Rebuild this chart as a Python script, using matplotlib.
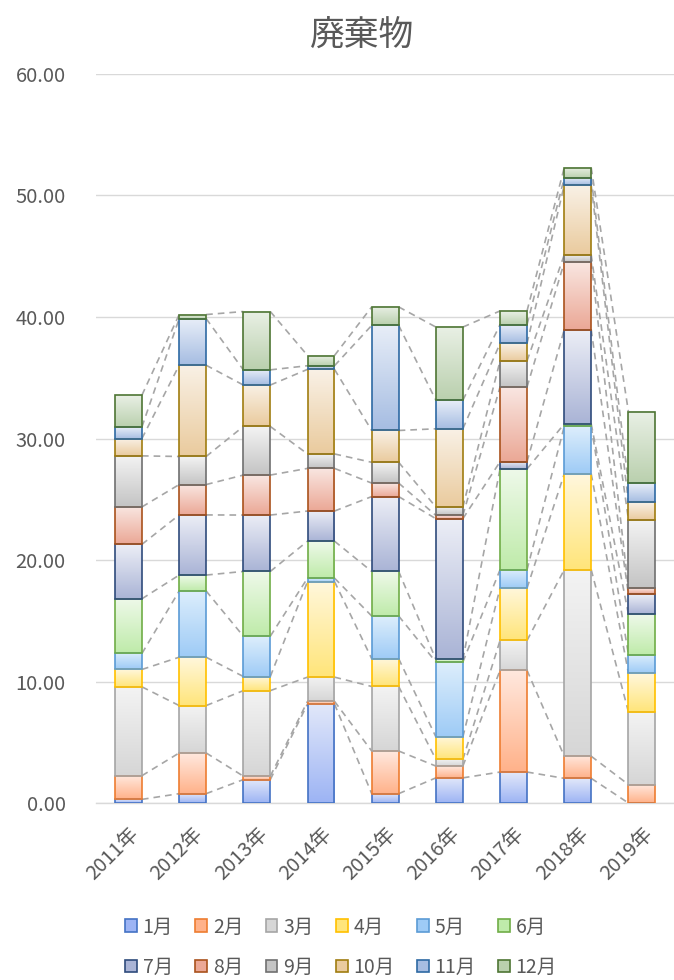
#!/usr/bin/env python3
"""Stacked monthly waste bars (2011-2019) in the Excel gradient style."""

import matplotlib

matplotlib.use("Agg")
import matplotlib.pyplot as plt
from matplotlib import colors as mcolors
from matplotlib.patches import Patch
import numpy as np

plt.rcParams["font.family"] = ["Noto Sans CJK JP", "DejaVu Sans"]

TITLE = "廃棄物"
years = ["2011年", "2012年", "2013年", "2014年", "2015年",
         "2016年", "2017年", "2018年", "2019年"]
months = ["1月", "2月", "3月", "4月", "5月", "6月",
          "7月", "8月", "9月", "10月", "11月", "12月"]

# one list per month, values for 2011..2019
m01 = [0.30, 0.77, 1.93, 8.15, 0.77, 2.07, 2.55, 2.03, 0.00]
m02 = [1.95, 3.35, 0.28, 0.22, 3.51, 0.97, 8.37, 1.82, 1.52]
m03 = [7.31, 3.90, 7.04, 1.99, 5.31, 0.55, 2.46, 15.35, 5.98]
m04 = [1.43, 3.98, 1.16, 7.87, 2.29, 1.85, 4.31, 7.89, 3.18]
m05 = [1.32, 5.45, 3.32, 0.28, 3.51, 6.16, 1.51, 3.90, 1.54]
m06 = [4.50, 1.31, 5.33, 3.04, 3.67, 0.22, 8.30, 0.21, 3.32]
m07 = [4.48, 4.95, 4.64, 2.48, 6.16, 11.58, 0.59, 7.76, 1.64]
m08 = [3.08, 2.50, 3.29, 3.51, 1.11, 0.27, 6.15, 5.54, 0.48]
m09 = [4.20, 2.31, 4.00, 1.19, 1.71, 0.69, 2.15, 0.61, 5.67]
m10 = [1.43, 7.51, 3.41, 6.96, 2.62, 6.44, 1.44, 5.74, 1.44]
m11 = [0.96, 3.84, 1.25, 0.30, 8.65, 2.35, 1.54, 0.59, 1.54]
m12 = [2.61, 0.33, 4.80, 0.84, 1.52, 6.02, 1.13, 0.85, 5.88]
series = [m01, m02, m03, m04, m05, m06, m07, m08, m09, m10, m11, m12]

# edge colour, gradient top, gradient bottom
edge_colors = ["#4472C4", "#ED7D31", "#A5A5A5", "#FFC000", "#5B9BD5", "#70AD47",
               "#2F4B7C", "#A9521C", "#707070", "#A07D10", "#2E69A3", "#4E7534"]
fill_top = ["#E2E8FA", "#FFE8DE", "#F3F3F3", "#FFF7DC", "#DDEEFC", "#EEF9E9",
            "#ECEEF6", "#F9E6E1", "#F3F3F3", "#F9F1E6", "#E8EEF8", "#E9F0E5"]
fill_bottom = ["#9DB4F4", "#FFB28A", "#D6D6D6", "#FFE57A", "#9ECBF6", "#BFEBAA",
               "#AAB4D6", "#EBA896", "#C4C4C4", "#EACB9E", "#A6BDE2", "#BAD0AE"]

TEXT = "#595959"
GRID = "#D9D9D9"
BAR_W = 0.42

fig = plt.figure(figsize=(6.74, 9.80), dpi=100)
ax = fig.add_axes([0.143, 0.1806, 0.857, 0.7439])

x = np.arange(len(years))
bottom = np.zeros(len(years))
tops = []
for k, vals in enumerate(series):
    vals = np.asarray(vals, dtype=float)
    bars = ax.bar(x, vals, BAR_W, bottom=bottom, facecolor="none",
                  edgecolor=edge_colors[k], linewidth=1.2, zorder=4)
    cmap = mcolors.LinearSegmentedColormap.from_list(
        f"g{k}", [fill_bottom[k], fill_top[k]])
    grad = np.linspace(0, 1, 64).reshape(-1, 1)
    for p in bars.patches:
        if p.get_height() <= 0:
            continue
        x0, y0 = p.get_x(), p.get_y()
        ax.imshow(grad, cmap=cmap, origin="lower", aspect="auto",
                  interpolation="bilinear", zorder=3,
                  extent=[x0, x0 + p.get_width(), y0, y0 + p.get_height()])
    bottom = bottom + vals
    tops.append(bottom.copy())

# series lines between neighbouring bars
for cum in tops:
    for i in range(len(years) - 1):
        ax.plot([x[i] + BAR_W / 2, x[i + 1] - BAR_W / 2], [cum[i], cum[i + 1]],
                color="#A6A6A6", lw=1.2, dashes=(4, 3), zorder=2)

ax.set_xlim(-0.5, len(years) - 0.5)
ax.set_ylim(0, 60)
ax.set_yticks(np.arange(0, 61, 10))
ax.set_yticklabels([f"{v:.2f}" for v in np.arange(0, 61, 10)])
ax.set_xticks(x)
ax.set_xticklabels(years, rotation=45, ha="right", rotation_mode="anchor")
ax.tick_params(axis="y", length=0, pad=22, labelsize=14.5, labelcolor=TEXT)
ax.tick_params(axis="x", length=0, pad=15, labelsize=14.5, labelcolor=TEXT)
ax.grid(axis="y", color=GRID, lw=1.0, zorder=0)
ax.set_axisbelow(True)
for name, spine in ax.spines.items():
    if name == "bottom":
        spine.set_color(GRID)
        spine.set_linewidth(1.0)
    else:
        spine.set_visible(False)

fig.text(0.537, 0.964, TITLE, ha="center", va="center", fontsize=25, color=TEXT)

handles = [Patch(facecolor=fill_bottom[k], edgecolor=edge_colors[k], lw=1.2)
           for k in range(len(months))]
order = [0, 6, 1, 7, 2, 8, 3, 9, 4, 10, 5, 11]
fig.legend([handles[i] for i in order], [months[i] for i in order],
           ncol=6, loc="center", bbox_to_anchor=(0.506, 0.0335), frameon=False,
           fontsize=14, labelcolor=TEXT, handlelength=0.6, handleheight=0.6,
           handletextpad=0.3, columnspacing=1.15, labelspacing=1.0,
           borderpad=0.0, borderaxespad=0.0)

fig.savefig("out.png", dpi=100, facecolor="white")
